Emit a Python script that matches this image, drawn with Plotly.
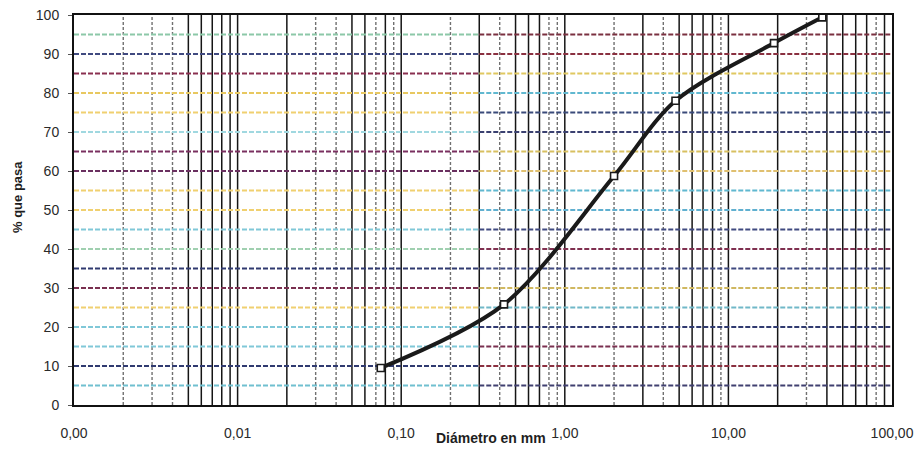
import plotly.graph_objects as go

# ---- data ----
diam_mm = [0.075, 0.425, 2.0, 4.75, 19.0, 37.5]
pct_pass = [9.5, 25.8, 58.7, 78.0, 92.8, 99.4]

x_tick_vals = [0.001, 0.01, 0.1, 1, 10, 100]
x_tick_text = ["0,00", "0,01", "0,10", "1,00", "10,00", "100,00"]
y_tick_vals = [0, 10, 20, 30, 40, 50, 60, 70, 80, 90, 100]

# gridline styling (scan-like colours)
h_levels = [5, 10, 15, 20, 25, 30, 35, 40, 45, 50, 55, 60, 65, 70, 75, 80, 85, 90, 95]
h_left_colors = ["#70c0d0", "#303a70", "#80c8d8", "#80c8d8", "#f0d070", "#7a3050",
                 "#303a70", "#a0d0b0", "#80c8d8", "#f0d070", "#f0d070", "#6a3060",
                 "#7a3060", "#a0d8e0", "#f0d070", "#e8c860", "#8a3050", "#404a80", "#8cc8a8"]
h_right_colors = ["#404070", "#8a3040", "#7a3050", "#303a70", "#70b8c8", "#d0b860",
                  "#404a80", "#803050", "#404a80", "#60b0d0", "#60b8d0", "#e0c070",
                  "#d8c060", "#3a4070", "#3a4a7a", "#60b8d0", "#e0c860", "#8a3040", "#7a3040"]
dashed_v = {0.002, 0.003, 0.004, 0.03, 0.04, 0.07, 0.09, 0.2, 0.4, 0.8, 0.9, 2, 4, 9, 30, 80}

fig = go.Figure()

# vertical grid lines
solid_x, solid_y, dash_x, dash_y = [], [], [], []
for d in [0.001, 0.01, 0.1, 1, 10]:
    for k in range(1, 10):
        v = round(k * d, 6)
        if v == 0.001:
            continue
        if v in dashed_v:
            dash_x += [v, v, None]
            dash_y += [0, 100, None]
        else:
            solid_x += [v, v, None]
            solid_y += [0, 100, None]
fig.add_trace(go.Scatter(x=dash_x, y=dash_y, mode="lines", hoverinfo="skip",
                         line=dict(color="#707070", width=1.4, dash="3px,2px"), showlegend=False))
fig.add_trace(go.Scatter(x=solid_x, y=solid_y, mode="lines", hoverinfo="skip",
                         line=dict(color="#151515", width=1.5), showlegend=False))

# horizontal grid lines
for lvl, cl, cr in zip(h_levels, h_left_colors, h_right_colors):
    fig.add_trace(go.Scatter(x=[0.001, 0.3], y=[lvl, lvl], mode="lines", hoverinfo="skip",
                             line=dict(color=cl, width=1.8, dash="5px,2px"), showlegend=False))
    fig.add_trace(go.Scatter(x=[0.3, 100], y=[lvl, lvl], mode="lines", hoverinfo="skip",
                             line=dict(color=cr, width=1.8, dash="5px,2px"), showlegend=False))

# data curve
fig.add_trace(go.Scatter(
    x=diam_mm, y=pct_pass, mode="lines+markers",
    line=dict(color="#1a1a1a", width=4, shape="spline", smoothing=0.9),
    marker=dict(symbol="square", size=7, color="white",
                line=dict(color="#1a1a1a", width=1.6)),
    showlegend=False))

fig.update_layout(
    width=919, height=452,
    margin=dict(l=74, r=27, t=15, b=47, autoexpand=False),
    paper_bgcolor="white", plot_bgcolor="white",
    font=dict(family="Liberation Sans, Arial, sans-serif", color="#2a2a2a"),
    xaxis=dict(type="log", range=[-3, 2], tickvals=x_tick_vals, ticktext=x_tick_text,
               showgrid=False, zeroline=False, showline=True, linecolor="#111",
               linewidth=2, mirror=True, ticks="", ticklabelstandoff=14, automargin=False,
               tickfont=dict(size=14, color="#2a2a2a")),
    yaxis=dict(range=[0, 100], tickvals=y_tick_vals, showgrid=False, zeroline=False,
               showline=True, linecolor="#111", linewidth=2, mirror=True, automargin=False,
               ticks="outside", ticklen=4, tickcolor="#555", ticklabelstandoff=6,
               tickfont=dict(size=14, color="#2a2a2a")),
    annotations=[
        dict(text="<b>Diámetro en mm</b>", xref="paper", yref="paper",
             x=(491 - 74) / 818, y=-(438 - 405) / 390, xanchor="center", yanchor="middle",
             showarrow=False, font=dict(size=14, color="#1e1e1e")),
        dict(text="<b>% que pasa</b>", xref="paper", yref="paper",
             x=(17 - 74) / 818, y=(405 - 197) / 390, xanchor="center", yanchor="middle",
             textangle=-90, showarrow=False, font=dict(size=13, color="#1e1e1e")),
    ],
)

fig.write_html("out.html", config={"displayModeBar": False},
               post_script="document.body.style.margin='0';document.body.style.overflow='hidden';")
